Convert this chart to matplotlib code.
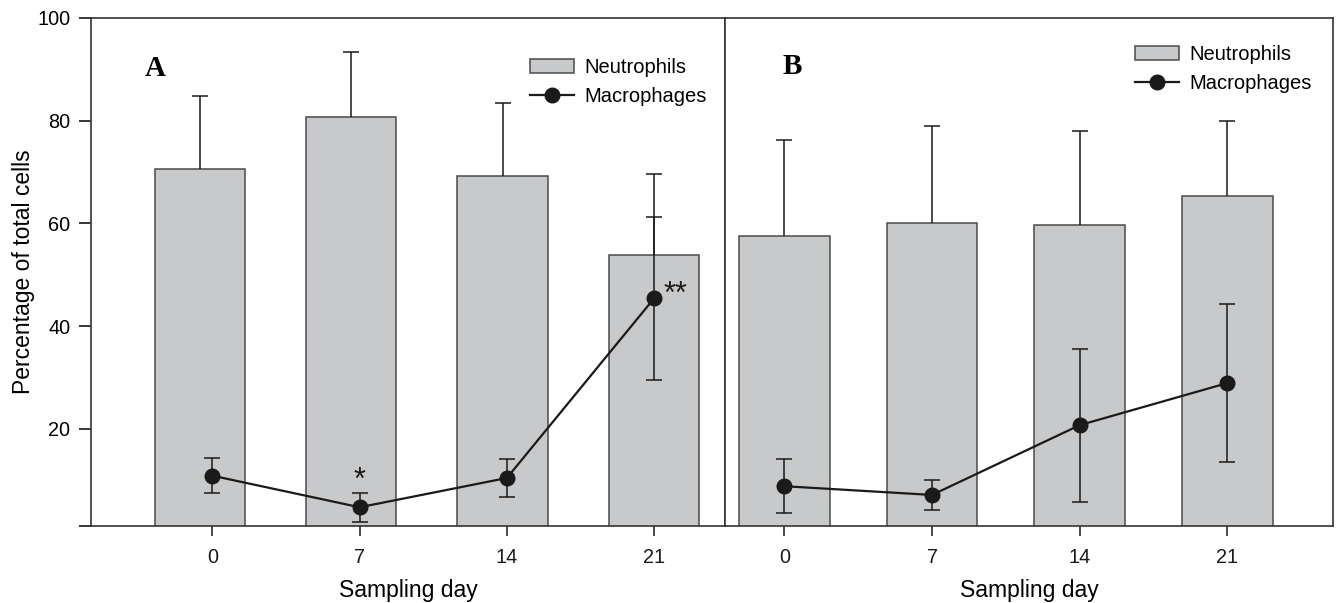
import matplotlib
matplotlib.use("Agg")
import matplotlib.pyplot as plt
from matplotlib.lines import Line2D
from matplotlib.patches import Patch
from matplotlib.transforms import IdentityTransform
import numpy as np

plt.rcParams['font.family'] = ['Liberation Sans', 'DejaVu Sans']

# ---- data ----
days = [0, 7, 14, 21]
day_labels = ['0', '7', '14', '21']

# Panel A
neut_A = [70.6, 80.7, 69.2, 53.9]
neut_A_err = [14.3, 12.6, 14.2, 15.8]
bar_days_A = [-0.6, 6.6, 13.8, 21.0]   # bar centres as drawn in the original
macro_A = [10.85, 4.7, 10.4, 45.4]
macro_A_err = [3.45, 2.8, 3.7, 15.85]

# Panel B
neut_B = [57.6, 60.0, 59.6, 65.4]
neut_B_err = [18.6, 18.9, 18.4, 14.5]
bar_days_B = [0, 7, 14, 21]
macro_B = [8.8, 7.1, 20.7, 28.9]
macro_B_err = [5.25, 3.0, 14.9, 15.35]

yticks = [20, 40, 60, 80, 100]

# ---- style ----
BAR_FC = '#c8c9cb'
BAR_EC = '#4a4a4a'
LC = '#1a1a1a'
W, H = 1336, 603

fig = plt.figure(figsize=(W / 100, H / 100), dpi=100)
axA = fig.add_axes([91 / W, 1 - 526 / H, 634 / W, 508 / H])
axB = fig.add_axes([725 / W, 1 - 526 / H, 608 / W, 508 / H])

YMIN = 1.05


def draw(ax, bar_x, neut, neut_err, macro, macro_err):
    ax.bar(bar_x, neut, width=4.3, color=BAR_FC, edgecolor=BAR_EC,
           linewidth=1.1, zorder=1)
    eb = ax.errorbar(bar_x, neut, yerr=[np.zeros(len(neut)), neut_err],
                     fmt='none', ecolor=LC, elinewidth=1.1, capsize=6,
                     capthick=1.1, zorder=2)
    eb[1][0].set_visible(False)   # hide lower caps at the bar tops
    ax.errorbar(days, macro, yerr=macro_err, fmt='-o', color=LC, ecolor=LC,
                elinewidth=1.1, capsize=6, capthick=1.1, linewidth=1.6,
                markersize=10.5, zorder=3)
    ax.set_ylim(YMIN, 100)
    ax.set_xticks(days)
    ax.set_xticklabels(day_labels, fontsize=14.3)
    ax.tick_params(axis='x', direction='out', length=7, width=1.1, pad=8.5,
                   colors=LC)
    for s in ax.spines.values():
        s.set_linewidth(1.2)
        s.set_color('#333333')
    ax.set_xlabel('Sampling day', fontsize=16.5)
    ax.xaxis.set_label_coords(0.5, -0.104)


draw(axA, bar_days_A, neut_A, neut_A_err, macro_A, macro_A_err)
draw(axB, bar_days_B, neut_B, neut_B_err, macro_B, macro_B_err)

axA.set_xlim(-5.77, 24.37)
axB.set_xlim(-2.81, 26.0)

axA.set_yticks([YMIN] + yticks)
axA.set_yticklabels([''] + [str(v) for v in yticks], fontsize=14.3)
axA.tick_params(axis='y', direction='out', length=9, width=1.1, pad=6)
axA.set_ylabel('Percentage of total cells', fontsize=16.5)
axA.yaxis.set_label_coords(-0.089, 0.5)

axB.set_yticks([])

# significance marks
axA.text(days[1], macro_A[1] + macro_A_err[1] - 0.6, '*', ha='center',
         va='bottom', fontsize=22, color=LC)
axA.text(days[3] + 0.45, macro_A[3] + 0.6, '**', ha='left', va='center',
         fontsize=22, color=LC)

# panel letters
fig.text(155, H - 68, 'A', transform=IdentityTransform(), fontsize=21,
         fontweight='bold', family='Liberation Serif', ha='center',
         va='center')
fig.text(792, H - 67, 'B', transform=IdentityTransform(), fontsize=21,
         fontweight='bold', family='Liberation Serif', ha='center',
         va='center')

# legends
handles = [Patch(facecolor=BAR_FC, edgecolor=BAR_EC, linewidth=1.1),
           Line2D([], [], color=LC, marker='o', markersize=10.5,
                  linewidth=1.6)]
labels = ['Neutrophils', 'Macrophages']

leg_kw = dict(loc='upper left', frameon=False, fontsize=14.5,
              handlelength=2.2, handletextpad=0.5, labelspacing=0.5,
              borderpad=0, borderaxespad=0)
axA.legend(handles, labels,
           bbox_to_anchor=((530 - 91) / 634, (526 - 58) / 508), **leg_kw)
axB.legend(handles, labels,
           bbox_to_anchor=((1135 - 725) / 608, (526 - 45) / 508), **leg_kw)

fig.savefig('out.png', dpi=100)
